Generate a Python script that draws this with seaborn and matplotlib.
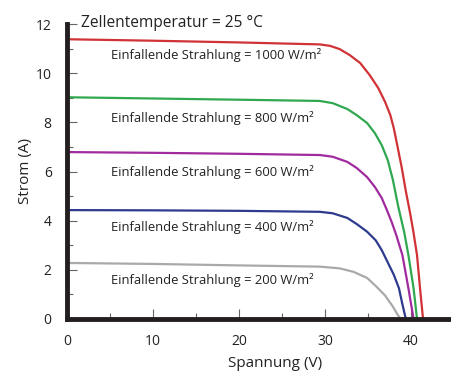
import numpy as np
import pandas as pd
import seaborn as sns
import matplotlib.pyplot as plt
from matplotlib.ticker import MultipleLocator

# I-V curves (voltage V, current A)
v_1000 = [0, 10, 20, 29.4, 30.6, 31.7, 32.9, 34.1, 35.2, 36.2, 37.0, 37.6, 38.0, 38.4, 38.9, 39.4, 39.9, 40.3, 40.7, 41.05, 41.4]
i_1000 = [11.38, 11.32, 11.25, 11.17, 11.11, 10.98, 10.73, 10.41, 9.92, 9.39, 8.82, 8.29, 7.76, 7.07, 6.2, 5.2, 4.3, 3.5, 2.6, 1.25, 0]

v_800 = [0, 10, 20, 29.4, 30.9, 32.6, 33.7, 34.9, 35.8, 36.6, 37.3, 37.9, 38.5, 39.2, 39.7, 40.3, 40.7]
i_800 = [9.02, 8.97, 8.92, 8.87, 8.78, 8.54, 8.29, 7.97, 7.56, 7.07, 6.46, 5.65, 4.6, 3.55, 2.6, 1.25, 0]

v_600 = [0, 10, 20, 29.4, 30.9, 32.6, 33.7, 34.9, 35.8, 36.6, 37.2, 37.8, 38.3, 39.0, 39.7, 40.3]
i_600 = [6.79, 6.76, 6.72, 6.67, 6.60, 6.39, 6.14, 5.77, 5.37, 4.92, 4.43, 3.90, 3.4, 2.6, 1.25, 0]

v_400 = [0, 10, 20, 29.4, 30.9, 32.6, 33.7, 34.9, 35.9, 36.6, 37.3, 38.0, 38.6, 39.0, 39.4]
i_400 = [4.43, 4.42, 4.40, 4.36, 4.30, 4.11, 3.86, 3.55, 3.2, 2.8, 2.3, 1.8, 1.25, 0.6, 0]

v_200 = [0, 10, 20, 29.4, 31.7, 33.3, 34.9, 36.0, 37.0, 37.9, 38.4, 38.8]
i_200 = [2.28, 2.24, 2.18, 2.13, 2.06, 1.92, 1.67, 1.31, 0.95, 0.5, 0.2, 0]

irradiance = ["1000", "800", "600", "400", "200"]
label_y = [10.73, 8.17, 5.98, 3.74, 1.59]
colors = ["#d03236", "#2fa84f", "#a02a9e", "#2d3a8e", "#a9a9a9"]

curves = [(v_1000, i_1000), (v_800, i_800), (v_600, i_600), (v_400, i_400), (v_200, i_200)]
df = pd.concat([pd.DataFrame({"V": v, "I": i, "E": e}) for (v, i), e in zip(curves, irradiance)])

plt.rcParams['font.family'] = ['Open Sans', 'DejaVu Sans']
fig = plt.figure(figsize=(4.52, 3.71), dpi=100)
ax = fig.add_axes([67/452, 1-319/371, (452-67)/452, (319-24)/371])

sns.lineplot(data=df, x="V", y="I", hue="E", palette=dict(zip(irradiance, colors)),
             linewidth=1.6, legend=False, ax=ax, sort=False)

for e, y in zip(irradiance, label_y):
    ax.text(5.1, y, f"Einfallende Strahlung = {e} W/m²", fontsize=9.4, va="center", color="#222222")

ax.text(1.6, 12.05, "Zellentemperatur = 25 °C", fontsize=11.2, va="center", color="#222222")

ax.set_xlim(0, (452-67)/8.6)
ax.set_ylim(0, 12)
ax.xaxis.set_major_locator(MultipleLocator(10))
ax.xaxis.set_minor_locator(MultipleLocator(5))
ax.yaxis.set_major_locator(MultipleLocator(2))
ax.yaxis.set_minor_locator(MultipleLocator(1))
ax.tick_params(which="both", direction="in", color="#666666", width=0.8, labelsize=10, labelcolor="#222222")
ax.tick_params(which="major", length=7)
ax.tick_params(which="minor", length=4)
ax.tick_params(axis="x", which="major", pad=11)
ax.tick_params(axis="y", which="major", pad=11)

for s in ["top", "right"]:
    ax.spines[s].set_visible(False)
for s in ["left", "bottom"]:
    ax.spines[s].set_linewidth(3.5)
    ax.spines[s].set_color("#231f20")

ax.set_xlabel("Spannung (V)", fontsize=11, color="#222222")
ax.set_ylabel("Strom (A)", fontsize=11, color="#222222")
ax.xaxis.set_label_coords((275-67)/(452-67), -0.125)
ax.yaxis.set_label_coords(-0.088, 0.5)
ax.patch.set_alpha(0)

fig.savefig("out.png", dpi=100)
